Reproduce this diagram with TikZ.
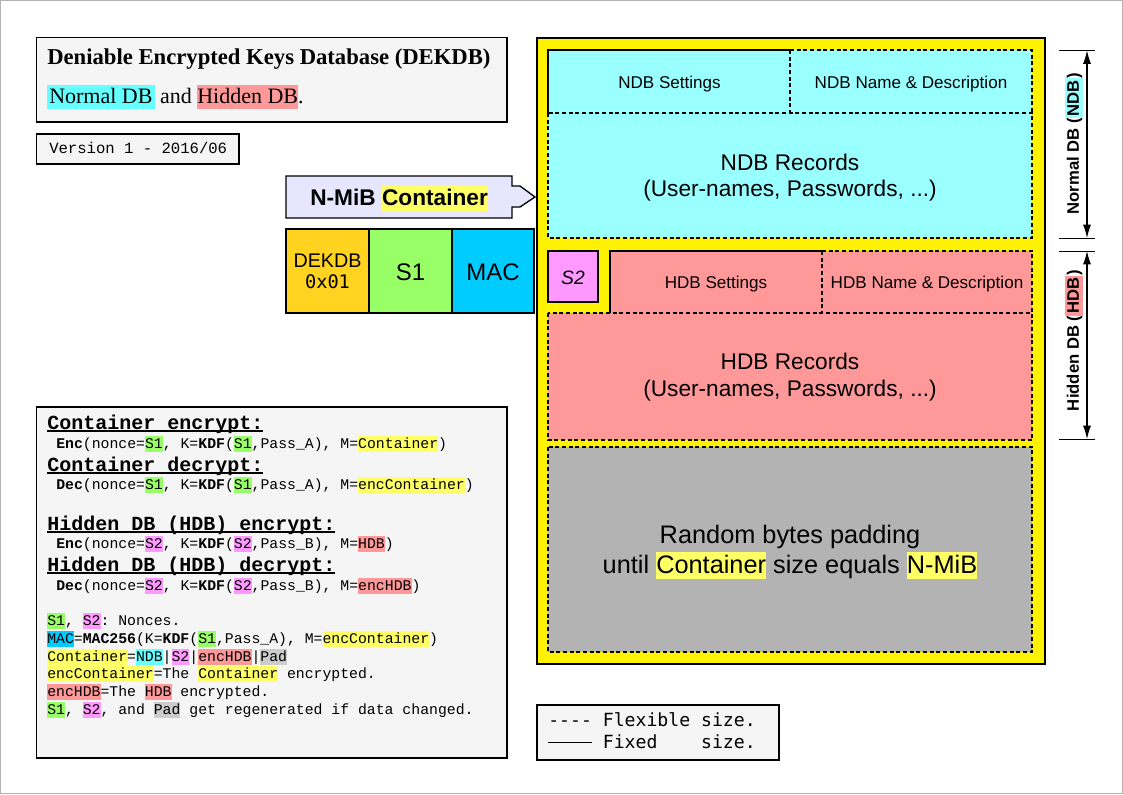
\documentclass[tikz,border=0pt]{standalone}
\usepackage{fontspec}
\setmainfont{Liberation Serif}
\setsansfont{Liberation Sans}
\setmonofont{Liberation Mono}
\newfontfamily\djmono{DejaVu Sans Mono}
\usetikzlibrary{arrows.meta}
\definecolor{cyanL}{HTML}{99FFFF}
\definecolor{cyanH}{HTML}{66FFFF}
\definecolor{salmon}{HTML}{FF9999}
\definecolor{magentaL}{HTML}{FF99FF}
\definecolor{greenL}{HTML}{99FF66}
\definecolor{gold}{HTML}{FFD320}
\definecolor{macblue}{HTML}{00CCFF}
\definecolor{yellowH}{HTML}{FFFF66}
\definecolor{grayPad}{HTML}{B3B3B3}
\definecolor{padgray}{HTML}{CCCCCC}
\definecolor{boxbg}{HTML}{F5F5F5}
\definecolor{lavender}{HTML}{E6E6FF}
\newcommand{\fsz}[1]{\fontsize{#1}{#1}\selectfont}
\newcommand{\hl}[2]{{\setlength{\fboxsep}{0pt}\colorbox{#1}{\rule[-0.25em]{0pt}{1.08em}#2}}}
\newcommand{\hlp}[2]{{\setlength{\fboxsep}{0pt}\colorbox{#1}{\rule[-0.25em]{0pt}{1.08em}\kern1.5pt#2\kern1.5pt}}}
\newcommand{\ulin}[1]{\setbox0=\hbox{#1}\rlap{\rule[-2pt]{\wd0}{0.9pt}}\box0}
\begin{document}
\begin{tikzpicture}[x=0.75pt,y=-0.75pt,
  bx/.style={draw=black,line width=1pt},
  dsh/.style={draw=black,line width=1pt,dash pattern=on 3pt off 2pt},
  txt/.style={inner sep=0pt,anchor=base},
  txtl/.style={inner sep=0pt,anchor=base west},
  code/.style={txtl,font=\ttfamily\fsz{11.1pt}},
  head/.style={txtl,font=\ttfamily\bfseries\fsz{15pt}},
  dim/.style={line width=0.8pt,{Latex[length=10pt,width=6pt]}-{Latex[length=10pt,width=6pt]}},
  tick/.style={line width=0.6pt}
]
\useasboundingbox (0,0) rectangle (1123,794);
\draw[gray!60,line width=0.75pt] (0.5,0.5) rectangle (1122.5,793.5);

% Title box
\draw[bx,fill=boxbg] (36.5,37.5) rectangle (507,122);
\node[txtl,font=\bfseries\fsz{17pt}] (t1) at (47,64) {Deniable Encrypted Keys Database (DEKDB)};
\node[txtl,font=\fsz{16.5pt}] (t2) at (47,103) {\hlp{cyanH}{Normal DB} and \hl{salmon}{Hidden DB}.};

% Version box
\draw[bx,fill=boxbg] (36.5,134) rectangle (239,164);
\node[txtl,font=\ttfamily\fsz{11.7pt}] (ver) at (49,153) {Version 1 - 2016/06};

% Container arrow callout
\draw[bx,fill=lavender] (286,176) -- (512,176) -- (512,186) -- (520,186) -- (535,197)
  -- (520,207) -- (512,207) -- (512,218) -- (286,218) -- cycle;
\node[txtl,font=\sffamily\bfseries\fsz{17pt}] (cont) at (310,205) {N-MiB \hl{yellowH}{Container}};

% Header cells
\draw[bx,fill=gold] (286,229) rectangle (369,313);
\draw[bx,fill=greenL] (369,229) rectangle (452,313);
\draw[bx,fill=macblue] (452,229) rectangle (534,313);
\node[txt,font=\sffamily\fsz{14.8pt}] (dek) at (327.5,267) {DEKDB};
\node[txt,font=\djmono\fsz{14pt}] (ver01) at (327.5,288) {0x01};
\node[txt,font=\sffamily\fsz{18pt}] (s1) at (410.5,280) {S1};
\node[txt,font=\sffamily\fsz{18pt}] (mac) at (493,280) {MAC};

% Yellow container
\draw[bx,fill=yellow] (537,38) rectangle (1045,664);

% NDB area
\fill[cyanL] (548,50) rectangle (1032,238);
\draw[bx] (548,113) -- (548,50) -- (790,50);
\draw[dsh] (790,50) -- (1032,50) -- (1032,113);
\draw[dsh] (790,50) -- (790,113);
\draw[dsh] (548,113) rectangle (1032,238);
\node[txt,font=\sffamily\fsz{12.8pt}] (nset) at (669.5,88) {NDB Settings};
\node[txt,font=\sffamily\fsz{12.8pt}] (nname) at (911,88) {NDB Name \& Description};
\node[txt,font=\sffamily\fsz{17pt}] (nrec1) at (790,170) {NDB Records};
\node[txt,font=\sffamily\fsz{17pt}] (nrec2) at (790,196) {(User-names, Passwords, ...)};

% S2 and HDB area
\draw[bx,fill=magentaL] (548,251) rectangle (598,302);
\node[txt,font=\sffamily\itshape\fsz{14.5pt}] (s2) at (573,284) {S2};
\fill[salmon] (610,251) rectangle (1032,313);
\fill[salmon] (548,313) rectangle (1032,440);
\draw[bx] (610,313) -- (610,251) -- (822,251);
\draw[dsh] (822,251) -- (1032,251) -- (1032,313);
\draw[dsh] (822,251) -- (822,313);
\draw[dsh] (548,313) rectangle (1032,440);
\node[txt,font=\sffamily\fsz{12.8pt}] (hset) at (716,288) {HDB Settings};
\node[txt,font=\sffamily\fsz{12.8pt}] (hname) at (927,288) {HDB Name \& Description};
\node[txt,font=\sffamily\fsz{17pt}] (hrec1) at (790,369) {HDB Records};
\node[txt,font=\sffamily\fsz{17pt}] (hrec2) at (790,396) {(User-names, Passwords, ...)};

% Padding
\draw[dsh,fill=grayPad] (548,447) rectangle (1032,652);
\node[txt,font=\sffamily\fsz{19pt}] (pad1) at (790,543) {Random bytes padding};
\node[txt,font=\sffamily\fsz{19pt}] (pad2) at (790,573) {until \hl{yellowH}{Container} size equals \hl{yellowH}{N-MiB}};

% Dimension brackets
\coordinate (nt) at (1087,50.5);
\coordinate (nb) at (1087,238);
\coordinate (ht) at (1087,251);
\coordinate (hb) at (1087,439);
\draw[tick] (1059,50.5) -- (1095,50.5);
\draw[tick] (1059,238) -- (1095,238);
\draw[tick] (1059,251) -- (1095,251);
\draw[tick] (1059,439) -- (1095,439);
\draw[dim] (nt) -- (nb);
\draw[dim] (ht) -- (hb);
\node[rotate=90,inner sep=0pt,font=\sffamily\bfseries\fsz{12.5pt}] (nlab) at (1074,143.5) {Normal DB (\hlp{cyanL}{NDB})};
\node[rotate=90,inner sep=0pt,font=\sffamily\bfseries\fsz{12.5pt}] (hlab) at (1074,340.5) {Hidden DB (\hlp{salmon}{HDB})};

% Code box
\draw[bx,fill=boxbg] (36.5,407) rectangle (507,758);
\node[head] (c1) at (47,429) {\ulin{Container encrypt:}};
\node[code] (c2) at (56,448) {\textbf{Enc}(nonce=\hl{greenL}{S1}, K=\textbf{KDF}(\hl{greenL}{S1},Pass\_A), M=\hl{yellowH}{Container})};
\node[head] (c3) at (47,471) {\ulin{Container decrypt:}};
\node[code] (c4) at (56,489) {\textbf{Dec}(nonce=\hl{greenL}{S1}, K=\textbf{KDF}(\hl{greenL}{S1},Pass\_A), M=\hl{yellowH}{encContainer})};
\node[head] (c5) at (47,530) {\ulin{Hidden DB (HDB) encrypt:}};
\node[code] (c6) at (56,548) {\textbf{Enc}(nonce=\hl{magentaL}{S2}, K=\textbf{KDF}(\hl{magentaL}{S2},Pass\_B), M=\hl{salmon}{HDB})};
\node[head] (c7) at (47,571) {\ulin{Hidden DB (HDB) decrypt:}};
\node[code] (c8) at (56,590) {\textbf{Dec}(nonce=\hl{magentaL}{S2}, K=\textbf{KDF}(\hl{magentaL}{S2},Pass\_B), M=\hl{salmon}{encHDB})};
\node[code] (c9) at (47,625) {\hl{greenL}{S1}, \hl{magentaL}{S2}: Nonces.};
\node[code] (c10) at (47,643) {\hl{macblue}{MAC}=\textbf{MAC256}(K=\textbf{KDF}(\hl{greenL}{S1},Pass\_A), M=\hl{yellowH}{encContainer})};
\node[code] (c11) at (47,661) {\hl{yellowH}{Container}=\hl{cyanH}{NDB}\textbar\hl{magentaL}{S2}\textbar\hl{salmon}{encHDB}\textbar\hl{padgray}{Pad}};
\node[code] (c12) at (47,678) {\hl{yellowH}{encContainer}=The \hl{yellowH}{Container} encrypted.};
\node[code] (c13) at (47,696) {\hl{salmon}{encHDB}=The \hl{salmon}{HDB} encrypted.};
\node[code] (c14) at (47,714) {\hl{greenL}{S1}, \hl{magentaL}{S2}, and \hl{padgray}{Pad} get regenerated if data changed.};

% Legend
\draw[bx,fill=boxbg] (537,705) rectangle (779,760);
\node[txtl,font=\djmono\fsz{13.6pt}] (lg1) at (548,726) {-{}-{}-{}-\ Flexible\ size.};
\node[txtl,font=\djmono\fsz{13.6pt}] (lg2) at (548,748) {\rule[0.3em]{2.408em}{0.7pt}\ Fixed\ \ \ \ size.};
\end{tikzpicture}
\end{document}
